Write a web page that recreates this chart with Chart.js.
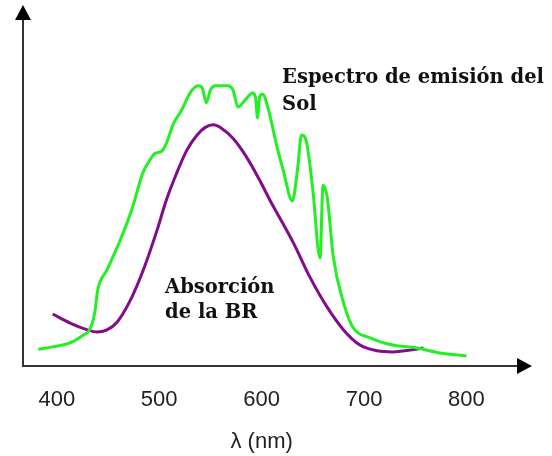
<!DOCTYPE html>
<html>
<head>
<meta charset="utf-8">
<script src="https://cdn.jsdelivr.net/npm/chart.js@4/dist/chart.umd.min.js"></script>
<style>
  html, body { margin: 0; padding: 0; background: #fff; }
  #wrap { width: 552px; height: 456px; }
</style>
</head>
<body>
<div id="wrap"><canvas id="chart"></canvas></div>
<script>
// wavelengths (nm) and relative intensity
const sunNm = [382, 396, 413, 426, 432, 437, 440, 449, 462, 474, 484, 491, 496, 502, 507, 514, 522, 530, 538, 542, 546, 550, 555, 567, 572, 577, 584, 591, 594, 596, 598, 601, 606, 615, 621, 630, 635, 639, 644, 650, 657, 660, 664, 670, 680, 689, 706, 728, 752, 774, 800];
const sunVal = [4.6, 5.3, 6.4, 8.6, 10.0, 14.7, 21.1, 26.6, 34.9, 44.0, 53.5, 57.1, 58.9, 59.4, 61.7, 67.2, 70.9, 75.6, 77.6, 77.0, 72.9, 76.5, 77.6, 77.6, 76.5, 71.7, 73.7, 75.6, 74.5, 68.7, 74.5, 75.3, 71.7, 60.7, 54.3, 45.7, 54.3, 64.0, 61.8, 48.8, 29.9, 50.1, 46.8, 30.2, 17.5, 10.8, 7.8, 5.8, 5.0, 3.6, 2.8];

const brNm = [396, 413, 430, 439, 449, 459, 472, 485, 498, 507, 517, 527, 537, 545, 553, 561, 572, 585, 598, 608, 615, 631, 647, 664, 680, 696, 713, 728, 745, 758];
const brVal = [14.4, 11.9, 10.0, 9.4, 10.0, 12.2, 18.3, 27.0, 37.7, 46.0, 53.4, 59.8, 64.0, 66.1, 66.8, 65.8, 63.1, 58.0, 51.5, 46.0, 42.4, 34.1, 24.7, 16.3, 10.0, 5.8, 4.2, 3.9, 4.4, 5.0];

const tickValues = [400, 500, 600, 700, 800];

const toPoints = (xs, ys) => xs.map((x, i) => ({ x: x, y: ys[i] }));

// axes with arrow heads, axis title and the two text notes
const decorations = {
    id: 'decorations',
    afterDraw(chart) {
        const ctx = chart.ctx;
        const { left, right, top, bottom } = chart.chartArea;
        const xs = chart.scales.x, ys = chart.scales.y;
        ctx.save();
        ctx.strokeStyle = '#333';
        ctx.fillStyle = '#000';
        ctx.lineWidth = 2;
        ctx.beginPath();
        ctx.moveTo(left, top + 12);
        ctx.lineTo(left, bottom);
        ctx.lineTo(right - 12, bottom);
        ctx.stroke();
        // y arrow
        ctx.beginPath();
        ctx.moveTo(left, top);
        ctx.lineTo(left - 8, top + 15);
        ctx.lineTo(left + 8, top + 15);
        ctx.closePath();
        ctx.fill();
        // x arrow
        ctx.beginPath();
        ctx.moveTo(right, bottom);
        ctx.lineTo(right - 15, bottom - 8);
        ctx.lineTo(right - 15, bottom + 8);
        ctx.closePath();
        ctx.fill();

        // axis title sits under the 600 tick
        ctx.font = '22px "Liberation Sans", Arial, sans-serif';
        ctx.fillStyle = '#222';
        ctx.textAlign = 'center';
        ctx.textBaseline = 'middle';
        ctx.fillText('λ (nm)', xs.getPixelForValue(600), bottom + 76);

        ctx.font = 'bold 19.5px "DejaVu Serif"';
        ctx.fillStyle = '#111';
        ctx.textAlign = 'left';
        ctx.textBaseline = 'alphabetic';
        const sx = xs.getPixelForValue(620), sy = ys.getPixelForValue(78.4);
        ctx.fillText('Espectro de emisión del', sx, sy);
        ctx.fillText('Sol', sx, sy + 27);
        const bx = xs.getPixelForValue(505.7), by = ys.getPixelForValue(20.2);
        ctx.fillText('Absorción', bx, by);
        ctx.fillText('de la BR', bx, by + 25);
        ctx.restore();
    }
};

new Chart(document.querySelector('#chart'), {
    type: 'line',
    data: {
        datasets: [
            {
                label: 'Espectro de emisión del Sol',
                data: toPoints(sunNm, sunVal),
                borderColor: '#22f022',
                borderWidth: 3,
                pointRadius: 0,
                cubicInterpolationMode: 'monotone'
            },
            {
                label: 'Absorción de la BR',
                data: toPoints(brNm, brVal),
                borderColor: '#820c8c',
                borderWidth: 3,
                pointRadius: 0,
                cubicInterpolationMode: 'monotone'
            }
        ]
    },
    options: {
        responsive: true,
        maintainAspectRatio: false,
        animation: false,
        layout: { padding: { left: 23, right: 20, top: 5, bottom: 0 } },
        plugins: {
            legend: { display: false },
            tooltip: { enabled: false }
        },
        scales: {
            x: {
                type: 'linear',
                min: 367,
                max: 864,
                grid: { display: false, drawTicks: false },
                border: { display: false },
                afterBuildTicks: (scale) => { scale.ticks = tickValues.map(v => ({ value: v })); },
                afterFit: (scale) => { scale.height = 90; },
                ticks: {
                    padding: 21,
                    color: '#222',
                    font: { family: '"Liberation Sans", Arial, sans-serif', size: 22 },
                    callback: (v) => String(v)
                }
            },
            y: {
                display: false,
                min: 0,
                max: 100
            }
        }
    },
    plugins: [decorations]
});
</script>
</body>
</html>
